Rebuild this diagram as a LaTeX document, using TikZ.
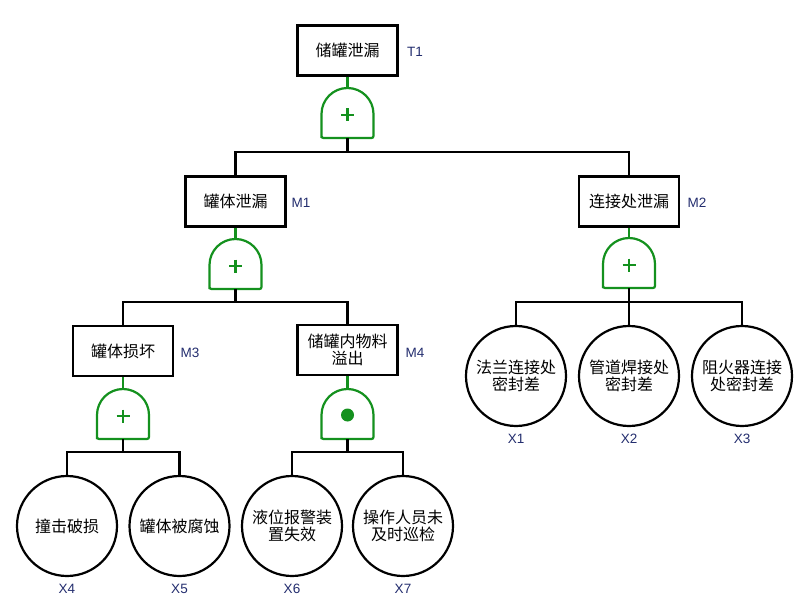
\documentclass[tikz,border=0pt]{standalone}
\usepackage{fontspec}
\setmainfont{Liberation Sans}
\newfontfamily\cjk{Noto Sans CJK SC}
\definecolor{gatec}{RGB}{20,145,30}
\definecolor{labc}{RGB}{35,45,110}
\tikzset{
  evbox/.style={draw=black, line width=2.2pt, fill=white, minimum width=100pt, minimum height=50pt, inner sep=0pt, align=center, font=\cjk\fontsize{16}{17.5}\selectfont},
  basic/.style={draw=black, line width=2.2pt, fill=white, circle, minimum size=100pt, inner sep=0pt, align=center, font=\cjk\fontsize{16}{17.5}\selectfont},
  tag/.style={text=labc, font=\fontsize{13.5}{15}\selectfont, inner sep=0pt},
  conn/.style={draw=black, line width=2.2pt},
  gconn/.style={draw=gatec, line width=2.2pt},
  orgate/.pic={
    \draw[gatec, line width=2.2pt, fill=white] (-26,48) -- (-26,26) arc[start angle=180,end angle=0,radius=26pt] -- (26,48) [rounded corners=2pt] -- (26,50) -- (-26,50) -- cycle;
    \draw[gatec, line width=2.2pt] (-6.5,27)--(6.5,27) (0,20.5)--(0,33.5);
    \coordinate (-top) at (0,0);
    \coordinate (-bot) at (0,50);
  },
  andgate/.pic={
    \draw[gatec, line width=2.2pt, fill=white] (-26,48) -- (-26,26) arc[start angle=180,end angle=0,radius=26pt] -- (26,48) [rounded corners=2pt] -- (26,50) -- (-26,50) -- cycle;
    \fill[gatec] (0,26) circle[radius=6.5pt];
    \coordinate (-top) at (0,0);
    \coordinate (-bot) at (0,50);
  }
}
\begin{document}
\begin{tikzpicture}[x=1pt,y=-1pt]
\useasboundingbox (0,0) rectangle (811,604);
% events
\node[evbox] (T1) at (347.5,50.5) {储罐泄漏};
\node[evbox] (M1) at (235.5,201.5) {罐体泄漏};
\node[evbox] (M2) at (629,201.5) {连接处泄漏};
\node[evbox] (M3) at (123,351) {罐体损坏};
\node[evbox] (M4) at (347.5,350) {储罐内物料\\溢出};
% tags
\node[tag] (tT1) at (415,52) {T1};
\node[tag] (tM1) at (301,203) {M1};
\node[tag] (tM2) at (697,203) {M2};
\node[tag] (tM3) at (190,353) {M3};
\node[tag] (tM4) at (415,353) {M4};
% basic events
\node[basic] (X1) at (516,376) {法兰连接处\\密封差};
\node[basic] (X2) at (629,376) {管道焊接处\\密封差};
\node[basic] (X3) at (742,376) {阻火器连接\\处密封差};
\node[basic] (X4) at (67,526) {撞击破损};
\node[basic] (X5) at (179.5,526) {罐体被腐蚀};
\node[basic] (X6) at (292,526) {液位报警装\\置失效};
\node[basic] (X7) at (403,526) {操作人员未\\及时巡检};
\node[tag] (tX1) at (516,439) {X1};
\node[tag] (tX2) at (629,439) {X2};
\node[tag] (tX3) at (742,439) {X3};
\node[tag] (tX4) at (67,589) {X4};
\node[tag] (tX5) at (179.5,589) {X5};
\node[tag] (tX6) at (292,589) {X6};
\node[tag] (tX7) at (403,589) {X7};
% gates
\pic (g0) at (347.5,88) {orgate};
\pic (g1) at (235.5,239) {orgate};
\pic (g2) at (629,238) {orgate};
\pic (g3) at (123,389) {orgate};
\pic (g4) at (347.5,389) {andgate};
% bus points
\coordinate (b0) at (347.5,152);
\coordinate (b1) at (235.5,302);
\coordinate (b2) at (629,302);
\coordinate (b3) at (123,452);
\coordinate (b4) at (347.5,452);
% connectors box -> gate
\draw[gconn] (T1.south) -- (g0-top);
\draw[gconn] (M1.south) -- (g1-top);
\draw[gconn] (M2.south) -- (g2-top);
\draw[gconn] (M3.south) -- (g3-top);
\draw[gconn] (M4.south) -- (g4-top);
% gate -> children
\draw[conn] (g0-bot) -- (b0);
\draw[conn] (M1.north) |- (b0) -| (M2.north);
\draw[conn] (g1-bot) -- (b1);
\draw[conn] (M3.north) |- (b1) -| (M4.north);
\draw[conn] (g2-bot) -- (X2.north);
\draw[conn] (X1.north) |- (b2) -| (X3.north);
\draw[conn] (g3-bot) -- (b3);
\draw[conn] (X4.north) |- (b3) -| (X5.north);
\draw[conn] (g4-bot) -- (b4);
\draw[conn] (X6.north) |- (b4) -| (X7.north);
\end{tikzpicture}
\end{document}
